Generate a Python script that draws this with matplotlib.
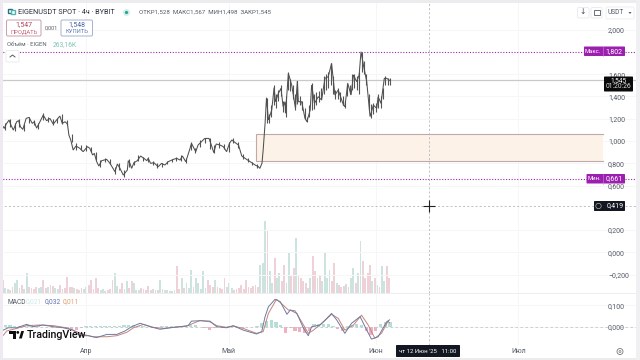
import numpy as np
import matplotlib
matplotlib.use('Agg')
import matplotlib.pyplot as plt
from matplotlib.patches import Rectangle, FancyBboxPatch, Polygon, Circle

plt.rcParams['font.family'] = ['Roboto', 'DejaVu Sans']

# price, x = days since 1 Apr
price_days = [-17.4, -17.2, -16.8, -16.2, -15.8, -15.3, -14.6, -14.2, -13.8, -13.3, -12.6, -12.0, -11.3, -10.9, -10.4,
              -9.7, -9.0, -8.3, -7.6, -6.9, -6.2, -5.5, -5.0, -4.4, -3.9, -3.6, -3.2, -2.7, -2.1, -1.3, -0.6,
              0.3, 0.8, 1.4, 1.75, 2.25, 2.7, 3.3, 4.35, 5.05, 6.1, 6.6, 7.15, 7.85, 8.7, 8.9, 9.25,
              9.6, 10.1, 10.8, 11.5, 12.2, 12.8, 13.1, 13.6, 14.3, 15.2, 15.9, 16.6, 17.3, 18.4, 19.1, 19.8,
              20.3, 21.0, 21.8, 22.2, 23.1, 23.6, 24.3, 25.0, 25.9, 26.5, 26.9, 27.4, 28.2, 28.9, 29.6, 30.2,
              30.7, 31.6, 32.1, 32.8, 33.8, 34.9, 35.6, 36.3, 36.6, 37.05, 37.3,
              37.7, 38.0, 38.4, 39.1, 39.6, 39.9, 40.5, 41.05, 41.5, 41.9, 42.0, 42.6, 43.3, 44.1, 44.5, 44.7,
              45.4, 46.1, 46.5, 47.2, 47.5, 48.1, 48.9, 49.6, 50.3, 51.0, 51.7, 52.4, 53.1, 54.2, 54.5, 55.1,
              55.8, 56.3, 57.0, 57.5, 57.9, 58.4, 59.1, 59.8, 60.5, 61.2, 61.5, 62.1, 62.8, 63.3, 63.9]
price_vals = [1.128, 1.113, 1.152, 1.188, 1.143, 1.098, 1.173, 1.183, 1.128, 1.104, 1.203, 1.212, 1.158, 1.173, 1.116,
              1.173, 1.233, 1.182, 1.203, 1.152, 1.188, 1.224, 1.158, 1.173, 1.152, 1.053, 1.008, 0.919, 0.955, 0.934, 0.904,
              0.949, 0.934, 0.874, 0.889, 0.814, 0.775, 0.823, 0.835, 0.799, 0.724, 0.793, 0.754, 0.694, 0.739, 0.823, 0.799,
              0.754, 0.805, 0.823, 0.865, 0.844, 0.823, 0.844, 0.799, 0.805, 0.769, 0.799, 0.784, 0.814, 0.835, 0.844, 0.829,
              0.865, 0.814, 0.919, 0.979, 0.904, 0.964, 0.994, 1.023, 1.023, 0.949, 0.895, 0.973, 0.964, 0.949, 0.904, 0.979,
              1.009, 0.979, 0.964, 0.865, 0.835, 0.805, 0.784, 0.769, 0.754, 0.80, 0.92,
              1.158, 1.389, 1.189, 1.278, 1.479, 1.353, 1.428, 1.473, 1.308, 1.353, 1.249, 1.608, 1.503, 1.294, 1.539, 1.353,
              1.353, 1.204, 1.174, 1.278, 1.503, 1.338, 1.398, 1.368, 1.563, 1.578, 1.698, 1.413, 1.458, 1.323, 1.308, 1.518,
              1.413, 1.593, 1.533, 1.593, 1.802, 1.683, 1.533, 1.219, 1.323, 1.293, 1.398, 1.338, 1.563, 1.563, 1.545]

# candle ranges
wick_days = [-17, -16, -15, -14, -13, -12, -11, -10, -9, -8, -7, -6, -5, -4, -3, -2, -1, 0, 1, 2, 3, 4, 5, 6, 7, 8, 9,
             10, 11, 12, 13, 14, 15, 16, 17, 18, 19, 20, 21, 22, 23, 24, 25, 26, 27, 28, 29, 30, 31, 32, 33, 34, 35, 36,
             38, 38.5, 39, 39.5, 40, 40.5, 41, 41.5, 42, 42.5, 43, 43.5, 44, 44.5, 45, 45.5, 46, 46.5, 47, 47.5, 48, 48.5,
             49, 49.5, 50, 50.5, 51, 51.5, 52, 52.5, 53, 53.5, 54, 54.5, 55, 55.5, 56, 56.5, 57, 57.5, 58, 58.5, 59, 59.5,
             60, 60.5, 61, 61.5, 62, 62.5, 63, 63.5, 63.9]
wick_lows = [1.10, 1.13, 1.09, 1.13, 1.09, 1.16, 1.14, 1.11, 1.19, 1.17, 1.14, 1.16, 1.15, 1.14, 0.99, 0.92, 0.92, 0.91, 0.90,
             0.83, 0.77, 0.81, 0.79, 0.70, 0.74, 0.68, 0.77, 0.78, 0.82, 0.82, 0.81, 0.78, 0.76, 0.77, 0.79, 0.81, 0.82, 0.82,
             0.80, 0.92, 0.89, 0.95, 0.98, 0.93, 0.89, 0.94, 0.93, 0.90, 0.98, 0.94, 0.84, 0.81, 0.78, 0.76,
             1.16, 1.16, 1.22, 1.32, 1.30, 1.36, 1.40, 1.26, 1.22, 1.46, 1.45, 1.38, 1.28, 1.33, 1.32, 1.28, 1.20, 1.17, 1.22,
             1.28, 1.29, 1.32, 1.35, 1.38, 1.42, 1.46, 1.48, 1.50, 1.42, 1.38, 1.38, 1.35, 1.32, 1.30, 1.40, 1.42, 1.46, 1.48,
             1.46, 1.42, 1.62, 1.60, 1.50, 1.28, 1.21, 1.24, 1.26, 1.30, 1.30, 1.38, 1.50, 1.50, 1.50]
wick_highs = [1.16, 1.20, 1.16, 1.20, 1.15, 1.22, 1.19, 1.16, 1.25, 1.22, 1.20, 1.21, 1.24, 1.19, 1.06, 0.98, 0.96, 0.96, 0.95,
              0.90, 0.83, 0.85, 0.84, 0.77, 0.80, 0.74, 0.84, 0.82, 0.87, 0.86, 0.86, 0.82, 0.80, 0.80, 0.82, 0.84, 0.86, 0.87,
              0.85, 0.99, 0.94, 1.01, 1.03, 1.03, 0.96, 0.99, 0.97, 0.99, 1.03, 0.99, 0.88, 0.85, 0.81, 0.79,
              1.39, 1.24, 1.32, 1.50, 1.42, 1.46, 1.50, 1.36, 1.40, 1.62, 1.56, 1.50, 1.42, 1.54, 1.40, 1.36, 1.30, 1.22, 1.32,
              1.52, 1.42, 1.44, 1.45, 1.48, 1.58, 1.60, 1.62, 1.70, 1.58, 1.46, 1.48, 1.44, 1.40, 1.36, 1.52, 1.50, 1.60, 1.60,
              1.58, 1.62, 1.80, 1.72, 1.60, 1.42, 1.33, 1.34, 1.34, 1.42, 1.40, 1.48, 1.58, 1.57, 1.57]

# volume in thousands, left to right
volume_k = [117, 45, 36, 27, 54, 90, 117, 45, 72, 36, 180, 54, 45, 36, 54, 45, 54, 117, 45, 54, 72, 63, 45, 36, 72, 36, 45,
            144, 54, 54, 45, 36, 27, 45, 36, 54, 72, 117, 36, 135, 45, 27, 36, 18, 27, 36, 117, 180, 63, 36, 90, 36, 108,
            45, 108, 90, 27, 27, 45, 36, 27, 63, 27, 36, 27, 27, 117, 36, 27, 27, 18, 18, 27, 243, 36, 135, 45, 90, 45, 207,
            54, 135, 90, 36, 198, 45, 117, 72, 54, 117, 54, 45, 36, 135, 54, 90, 45, 27, 36, 45, 72, 36, 117, 54, 45, 63,
            72, 54, 252, 270, 648, 558, 198, 90, 315, 135, 180, 108, 252, 90, 360, 162, 225, 495, 162, 135, 108, 90, 45,
            135, 333, 198, 135, 162, 108, 369, 135, 207, 108, 270, 90, 72, 54, 63, 81, 54, 135, 225, 90, 180, 468, 288, 135,
            180, 252, 108, 135, 72, 54, 243, 108, 243, 135]

macd_days = [-17.4, -16.4, -14.6, -12.5, -11.1, -9.0, -6.9, -4.8, -2.7, -1.3, 0.5, 2.2, 4.4, 6.5, 8.2, 9.6, 11.4, 13.5,
             15.6, 17.7, 19.8, 21.5, 22.2, 24.0, 26.1, 27.5, 29.6, 31.0, 33.1, 35.9, 37.0, 37.7, 38.4, 39.8, 40.9, 42.3,
             43.0, 44.4, 45.8, 46.8, 47.5, 49.3, 50.7, 51.7, 52.8, 54.5, 55.9, 57.7, 59.1, 60.1, 61.5, 63.3, 63.9]
macd_vals = [-0.016, -0.005, -0.005, 0.011, 0.0, 0.008, 0.0, -0.005, -0.016, -0.042, -0.042, -0.051, -0.036, -0.036,
             -0.020, 0.0, 0.016, 0.0, -0.012, -0.005, 0.0, 0.005, 0.026, 0.028, 0.026, 0.0, -0.005, 0.005, -0.016, -0.034,
             -0.023, 0.047, 0.093, 0.128, 0.117, 0.058, 0.078, 0.062, -0.008, -0.042, 0.0, 0.008, 0.039, 0.062, 0.031,
             -0.031, 0.016, 0.047, -0.016, -0.058, -0.047, 0.023, 0.032]
signal_days = [-17.4, -16.7, -14.6, -12.5, -9.7, -6.9, -4.1, -2.3, -0.6, 1.5, 4.4, 6.5, 8.6, 10.0, 12.1, 14.2, 16.3, 18.4,
               21.2, 22.6, 24.0, 26.1, 27.5, 29.6, 31.0, 33.1, 35.9, 37.3, 38.4, 40.1, 41.5, 42.6, 44.0, 45.4, 46.8, 47.9,
               50.0, 51.7, 53.1, 54.5, 56.3, 58.0, 59.4, 60.8, 62.2, 63.6, 63.9]
signal_vals = [-0.04, -0.02, -0.008, 0.005, 0.008, 0.005, -0.005, -0.020, -0.036, -0.047, -0.047, -0.042, -0.026, -0.005,
               0.011, -0.003, -0.008, -0.003, 0.003, 0.016, 0.029, 0.023, 0.005, -0.003, 0.003, -0.008, -0.031, -0.023,
               0.062, 0.128, 0.101, 0.078, 0.075, 0.023, -0.031, -0.016, 0.023, 0.058, 0.039, -0.016, 0.008, 0.054, 0.008,
               -0.054, -0.031, 0.026, 0.018]
# one bar a day from day -17 on
hist_vals = [0.008, 0.006, 0.004, 0.003, 0.004, 0.003, 0.002, 0.002, -0.002, -0.003, -0.004, -0.002, -0.006, -0.008, -0.012,
             -0.014, -0.006, 0.002, 0.003, 0.004, 0.005, 0.004, 0.002, 0.003, 0.001, 0.006, 0.008, 0.006, 0.002, 0.001,
             -0.002, -0.003, -0.002, 0.001, 0.002, 0.002, 0.001, 0.003, 0.004, 0.01, 0.008, -0.002, -0.008, -0.014, -0.006,
             -0.002, -0.004, 0.002, 0.003, -0.003, -0.006, -0.003, -0.002, 0.004, 0.015, 0.028, 0.03, 0.022, 0.01, -0.03,
             -0.008, -0.018, -0.024, -0.028, -0.02, 0.014, 0.012, 0.014, 0.012, 0.003, -0.012, -0.02, 0.004, 0.009, 0.012,
             0.008, -0.018, -0.04, -0.022, 0.012, 0.02, 0.021]

price_ticks = [-0.2, 0.0, 0.2, 0.6, 0.8, 1.0, 1.2, 1.4, 1.6, 2.0]
macd_ticks = [0.0, 0.1]
month_days = [0, 30, 61, 91]
month_names = ['Апр', 'Май', 'Июн', 'Июл']
price_high, price_low, price_last = 1.802, 0.661, 1.545
zone_top, zone_bottom = 1.063, 0.816
zone_start, zone_end = 35.8, 108.8
cross_day, cross_price = 72.3, 0.419

W, H = 640, 360
fig = plt.figure(figsize=(6.4, 3.6), dpi=100, facecolor='white')

def pane(top, bottom):
    return fig.add_axes([0, 1 - bottom / H, 1, (bottom - top) / H])

ax = pane(0, 293)
ax_m = pane(293, 345)
ax_v = ax.twinx()

xlim = (-18.105, 116.63)
for a in (ax, ax_m, ax_v):
    a.set_xlim(*xlim)
    for s in a.spines.values():
        s.set_visible(False)
    a.patch.set_visible(False)
ax.set_zorder(2)
ax_v.set_zorder(1)

ax.set_ylim(-0.3657, 2.2668)
ax_m.set_ylim(-0.0855, 0.1575)
ax_v.set_ylim(0, 2637)
ax_v.set_yticks([])

def comma(v, d=3):
    return f'{v:.{d}f}'.replace('.', ',').replace('-', '−')

for a, ticks in ((ax, price_ticks), (ax_m, macd_ticks)):
    a.yaxis.tick_right()
    a.set_yticks(ticks)
    a.set_yticklabels([comma(t) for t in ticks])
    a.tick_params(axis='y', length=0, pad=-23, labelsize=5, labelcolor='#555b66')
    a.grid(True, color='#f6f6f7', lw=0.7)
    a.set_axisbelow(True)
ax.set_xticks(month_days)
ax.tick_params(axis='x', length=0, labelbottom=False)
ax_m.set_xticks(month_days)
ax_m.set_xticklabels(month_names)
ax_m.tick_params(axis='x', length=0, pad=2, labelsize=5, labelcolor='#555b66')

# volume
vol_x = np.linspace(-17.5, 63.8, len(volume_k))
close_at = lambda t: np.interp(t, price_days, price_vals)
vol_col = ['#cde3df' if close_at(t + 0.25) >= close_at(t - 0.25) else '#efd2d8' for t in vol_x]
ax_v.bar(vol_x, volume_k, width=0.38, color=vol_col, lw=0)

# zone and levels
ax.add_patch(Rectangle((zone_start, zone_bottom), zone_end - zone_start, zone_top - zone_bottom,
                       facecolor='#fdf2e8', edgecolor='none', zorder=1))
ax.plot([zone_end, zone_start, zone_start, zone_end], [zone_top, zone_top, zone_bottom, zone_bottom],
        color='#bfa9a9', lw=0.8, zorder=1.2)
ax.axhline(price_last, color='#c9c9c9', lw=0.9, zorder=1.5)
ax.plot(xlim, [price_high, price_high], color='#9c27b0', lw=0.8, ls=(0, (1, 1.5)), zorder=1.5)
ax.plot(xlim, [price_low, price_low], color='#9c27b0', lw=0.8, ls=(0, (1, 1.5)), zorder=1.5)
ax.vlines(wick_days, wick_lows, wick_highs, color='#555555', lw=0.8, zorder=3)
ax.plot(price_days, price_vals, color='#4f4f4f', lw=0.75, solid_joinstyle='miter', zorder=3)

# crosshair
for a in (ax, ax_m):
    a.axvline(cross_day, color='#b4b7be', lw=0.6, ls=(0, (2.5, 2.5)), zorder=1.6)
ax.axhline(cross_price, color='#b4b7be', lw=0.6, ls=(0, (2.5, 2.5)), zorder=1.6)
ax.plot([cross_day], [cross_price], marker='+', ms=8, mew=0.8, color='#222222', zorder=4)

# macd
hist_x = -17 + np.arange(len(hist_vals))
ax_m.bar(hist_x, hist_vals, width=0.7, color=['#b4dfd5' if v >= 0 else '#f0b0c2' for v in hist_vals], lw=0)
ax_m.axhline(0, color='#c4c7cd', lw=0.6, ls=(0, (3, 3)))
ax_m.plot(signal_days, signal_vals, color='#c4837a', lw=0.7)
ax_m.plot(macd_days, macd_vals, color='#6f7a9e', lw=0.7)

# screen furniture, in pixels
ui = fig.add_axes([0, 0, 1, 1], zorder=5)
ui.set_xlim(0, W)
ui.set_ylim(H, 0)
ui.axis('off')
ui.patch.set_visible(False)

def txt(x, y, s, size=5, color='#444a55', ha='left', **kw):
    ui.text(x, y, s, fontsize=size, color=color, ha=ha, va='center', **kw)

def box(x0, y0, x1, y1, fc='white', ec='none', r=1.5, lw=0.7):
    ui.add_patch(FancyBboxPatch((x0, y0), x1 - x0, y1 - y0, boxstyle=f'round,pad=0,rounding_size={r}',
                                fc=fc, ec=ec, lw=lw))

ui.add_patch(Rectangle((0, 0), 2.5, H, fc='#efeaf2', ec='none'))
ui.add_patch(Rectangle((0, 0), W, 3, fc='#ececee', ec='none'))
ui.add_patch(Rectangle((0, 357.5), W, 2.5, fc='#ececee', ec='none'))
ui.add_patch(Rectangle((636, 0), 4, H, fc='#f0f0f2', ec='none'))
ui.plot([0, 636], [293, 293], color='#eeeeef', lw=0.7)

ui.add_patch(Rectangle((8, 9), 3.5, 4, fc='white', ec='#2b6f80', lw=1))
ui.add_patch(Rectangle((11, 14), 3.5, -4, fc='white', ec='#4db6ac', lw=1))
txt(17.5, 12.5, 'EIGENUSDT SPOT · 4ч · BYBIT', size=5.25, color='#2a2e39')
ui.add_patch(Circle((126.5, 12.5), 3.5, fc='#d5efe9', ec='none'))
ui.add_patch(Circle((126.5, 12.5), 1.6, fc='#26a69a', ec='none'))
txt(139, 12.5, 'ОТКР1,528  МАКС1,567  МИН1,498  ЗАКР1,545', size=4.45, color='#555b66')

box(6.5, 20, 41, 36, ec='#c9a0ac')
txt(24, 25, '1,547', size=5, color='#b0485f', ha='center')
txt(24, 31.5, 'ПРОДАТЬ', size=4.2, color='#c0657a', ha='center')
txt(51, 28, '0,001', size=4, color='#555b66', ha='center')
box(61, 20, 92.5, 36, ec='#a7b1cf')
txt(77, 25, '1,548', size=5, color='#4a66a8', ha='center')
txt(77, 31.5, 'КУПИТЬ', size=4.2, color='#5f7ab8', ha='center')
txt(7, 44, 'Объём · EIGEN', size=4.2, color='#555b66')
txt(52.5, 44.5, '263,16K', size=4.8, color='#7cc4b2')
box(6, 50.5, 19, 62, ec='#ececee')
ui.plot([10, 12.5, 15], [57, 55, 57], color='#555b66', lw=0.7)

box(584, 46.5, 625, 56, fc='#9c1fb0', r=0.8)
txt(593, 51.5, 'Макс.', size=4.2, color='white', ha='center')
txt(614, 51.5, comma(price_high), size=5, color='white', ha='center')
ui.plot([603, 603], [46.5, 56], color='#c98ad4', lw=0.4)
box(586.5, 174, 625, 183.5, fc='#9c1fb0', r=0.8)
txt(594.5, 179, 'Мин.', size=4.2, color='white', ha='center')
txt(614, 179, comma(price_low), size=5, color='white', ha='center')
ui.plot([603, 603], [174, 183.5], color='#c98ad4', lw=0.4)

box(604, 76.5, 633, 91.5, fc='#0a0a0a', r=0.8)
txt(618.5, 80.5, comma(price_last), size=4.8, color='white', ha='center')
txt(618.5, 87, '01:20:26', size=4.8, color='#dddddd', ha='center')
box(594, 201, 625, 211, fc='#131722', r=0.8)
ui.add_patch(Circle((598.5, 206), 2.7, fc='none', ec='#cccccc', lw=0.4))
txt(615, 206, comma(cross_price), size=5, color='white', ha='center')
box(396, 345, 460, 357, fc='#131722', r=0.8)
txt(428, 351.3, "чт 12 Июн '25   11:00", size=4.3, color='white', ha='center')
ui.add_patch(Circle((620, 351.5), 3, fc='none', ec='#777777', lw=0.6))
ui.add_patch(Circle((620, 351.5), 1, fc='none', ec='#777777', lw=0.5))

box(577.5, 7.5, 589, 18, ec='#ececee')
txt(583, 12.5, '↓', size=5.5, color='#444a55', ha='center')
box(591, 7.5, 602, 18, ec='#ececee')
ui.add_patch(Rectangle((593.5, 10), 6, 5, fc='none', ec='#555b66', lw=0.6))
box(606, 7, 634, 19, ec='#f0f0f2')
txt(608, 12.5, 'USDT', size=4.8, color='#555b66')
ui.add_patch(Polygon([[628.5, 12], [631.5, 12], [630, 14]], fc='#555b66', ec='none'))

txt(7, 302, 'MACD', size=4.8, color='#555b66')
txt(26, 302, '0,021', size=4.8, color='#cfe8e6')
txt(44.5, 302, '0,032', size=4.8, color='#5f6fb0')
txt(63, 302, '0,011', size=4.8, color='#d8a070')

# logo
ui.add_patch(Polygon([[9, 331], [16, 331], [16, 338.5], [13, 338.5], [13, 333.5], [9, 333.5]], fc='#0f0f0f', ec='none'))
ui.add_patch(Circle((17.8, 332.4), 1.4, fc='#0f0f0f', ec='none'))
ui.add_patch(Polygon([[19, 338.5], [21.3, 331], [24, 331], [21.8, 338.5]], fc='#0f0f0f', ec='none'))
txt(26.5, 334.8, 'TradingView', size=7.7, color='#0f0f0f', weight='medium')

fig.savefig('out.png', dpi=100, facecolor='white')
